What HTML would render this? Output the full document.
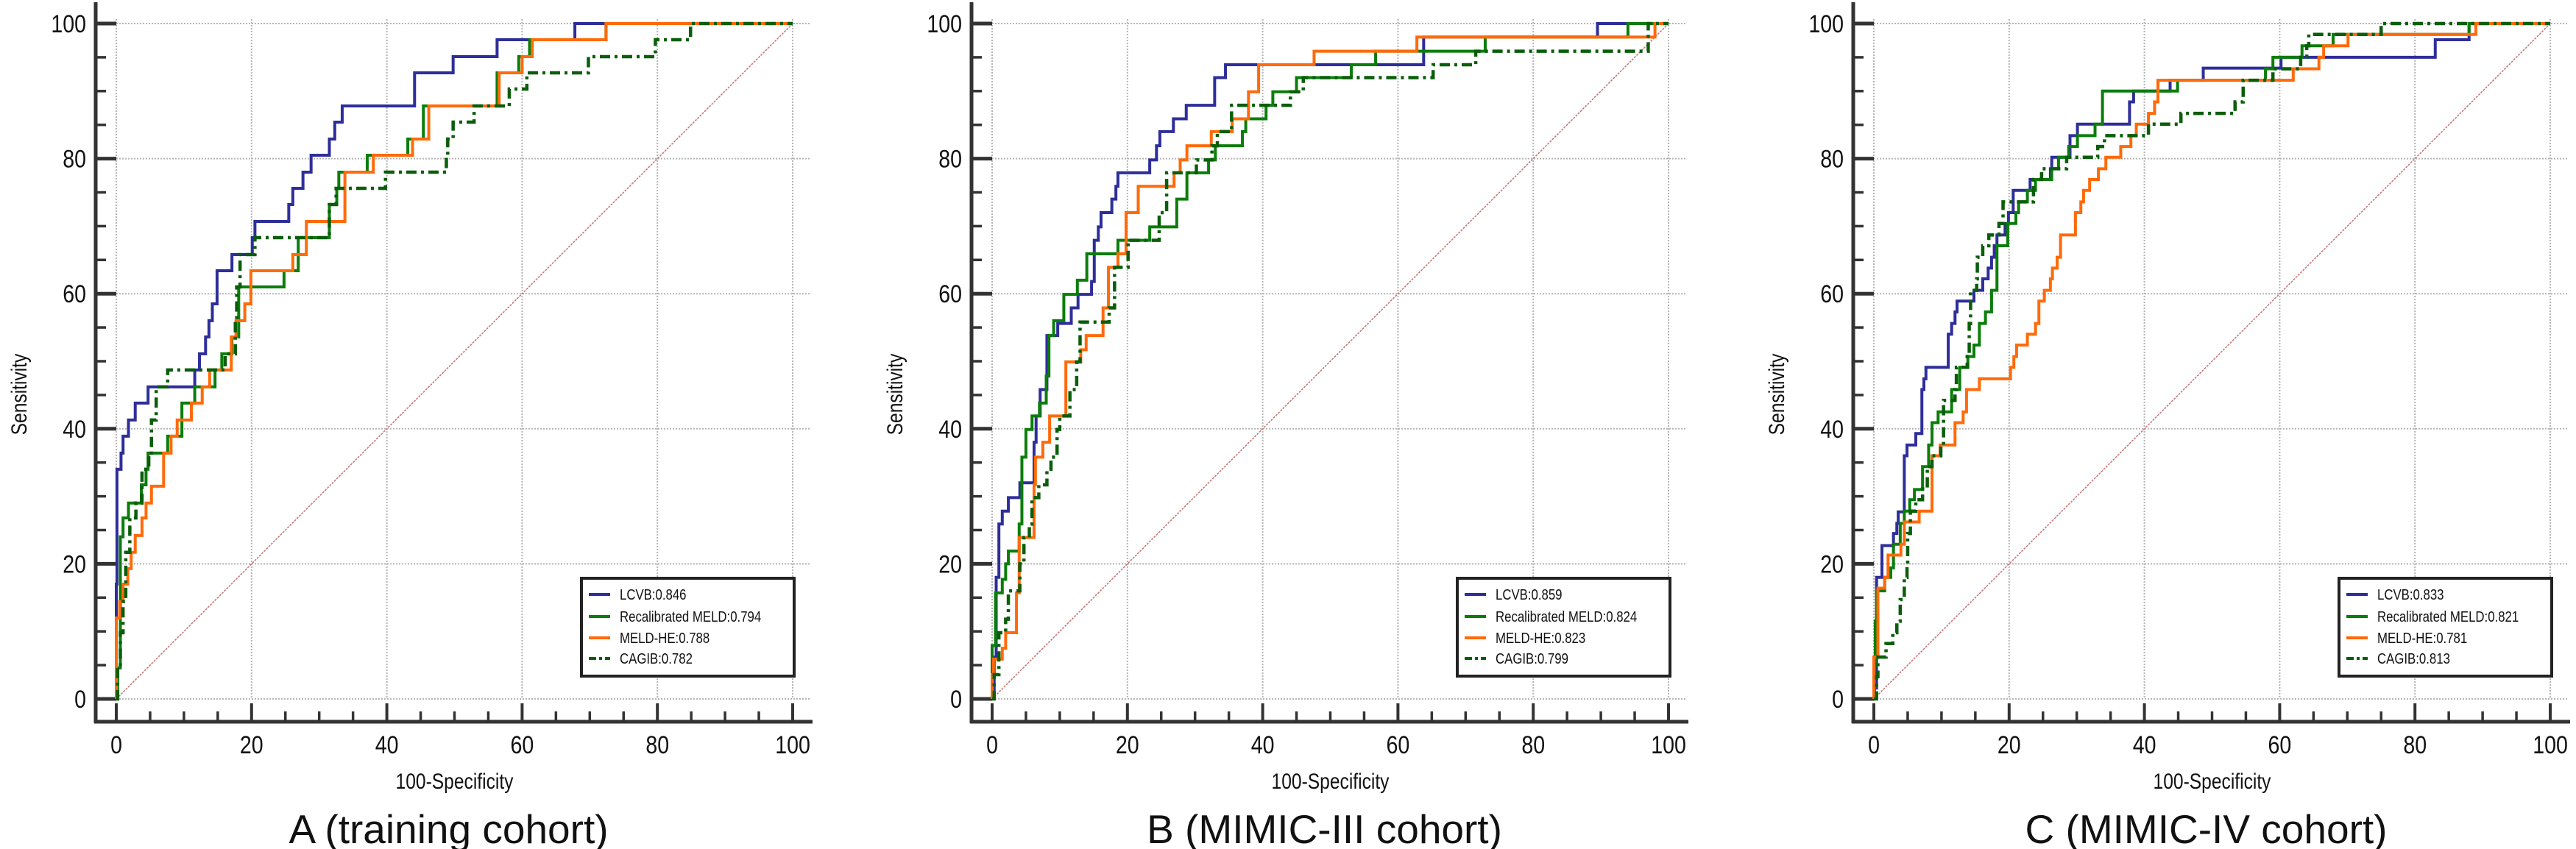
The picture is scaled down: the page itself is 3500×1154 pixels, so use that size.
<!DOCTYPE html>
<html><head><meta charset="utf-8"><title>ROC curves</title>
<style>
html,body{margin:0;padding:0;background:#fff;}
svg{display:block;font-family:"Liberation Sans",Arial,sans-serif;}
</style></head>
<body>
<svg id="chart" width="3500" height="1154" viewBox="0 0 3500 1154" xmlns="http://www.w3.org/2000/svg"></svg>
<script>
// ---- Panel meta ----
const panelTitles = ["A (training cohort)", "B (MIMIC-III cohort)", "C (MIMIC-IV cohort)"];
const seriesNames = ["LCVB", "Recalibrated MELD", "MELD-HE", "CAGIB"];
const aucA = ["0.846", "0.794", "0.788", "0.782"];
const aucB = ["0.859", "0.824", "0.823", "0.799"];
const aucC = ["0.833", "0.821", "0.781", "0.813"];
const tickLabels = ["0", "20", "40", "60", "80", "100"];
const tickValues = [0, 20, 40, 60, 80, 100];

// ---- Panel A data (100-specificity where sensitivity steps up, new sensitivity) ----
const lcvbA_x = [0,0.1,0.7,1.0,1.8,2.8,4.7,11.6,12.3,13.2,13.7,14.2,14.9,17.1,20.1,20.5,25.5,26.1,27.6,28.8,31.5,32.3,33.4,44.1,49.8,56.3,67.8];
const lcvbA_y = [17,34,36.4,38.9,41.3,43.8,46.2,48.7,51.1,53.6,56,58.5,63.4,65.8,68.3,70.7,73.2,75.6,78,80.5,82.9,85.4,87.8,92.7,95.1,97.6,100];
const meldA_x = [0.2,0.6,1.0,1.8,3.7,4.4,4.7,7.6,9.7,11.6,14.6,15.6,17.1,18.1,24.8,26.9,31.5,32.6,32.9,37.1,43.1,45.4,56.3,59.5,61.1,72.4];
const meldA_y = [4.6,24,26.8,29,31.7,34,36.4,38.9,43.8,46.2,48.7,51.1,53.6,61,63.4,68.3,73.2,75.6,78,80.5,82.9,87.8,92.7,95.1,97.6,100];
const meldheA_x = [0,0.5,1,1.7,2.2,2.8,3.8,4.4,5.2,7.0,8.1,9.0,11.1,12.7,13.8,17.0,17.7,19.0,19.9,26.1,28.1,33.8,38.0,43.8,46.2,56.6,60,61.5,72.4];
const meldheA_y = [12,14.4,17,19.3,21.7,24.2,26.8,29,31.5,36.4,38.9,41.3,43.8,46.2,48.7,53.6,56,58.5,63.4,65.8,70.7,78,80.5,82.9,87.8,92.7,95.1,97.6,100];
const cagibA_x = [0.2,0.6,1.0,1.4,2.0,2.9,3.8,4.8,5.2,5.9,7.6,16.1,17.6,17.8,18.3,20.5,31.5,32.5,39.8,48.8,49.0,49.8,52.9,58.1,60.7,69.8,79.7,84.9];
const cagibA_y = [4.6,9.8,14.4,21.7,26.8,29,34,36.4,41.3,46.2,48.7,51.1,56,61,65.8,68.3,73.2,75.6,78,80.5,82.9,85.4,87.8,90.3,92.7,95.1,97.6,100];

// ---- Panel B data ----
const lcvbB_x = [0.3,0.6,1.0,1.5,2.4,4.1,6.2,6.5,7.1,8.1,9.7,11.7,12.7,14.7,15.1,15.7,16.1,17.7,18.3,18.6,23.3,24.3,24.8,26.8,28.7,32.9,34.5,63.8,89.5];
const lcvbB_y = [6.2,18,25.9,27.8,29.8,32,38,41.9,45.8,53.8,55.6,57.9,59.9,61.8,67.9,69.9,72,74,75.9,77.9,79.8,81.9,84,85.9,87.9,92,93.9,98,100];
const meldB_x = [0,0.5,1.5,2.0,2.4,4.0,4.4,5.0,5.9,7.0,8.0,8.4,9.1,10.6,12.6,14.0,18.6,23.3,27.3,28.8,32.0,33.0,37.0,37.5,40.5,41.5,45.0,53.1,56.7,72.9,94];
const meldB_y = [7.9,15.7,17.7,20,21.9,25.9,35.8,39.9,41.9,43.8,47.8,53.8,56,59.9,62,65.9,67.9,69.9,74,77.9,79.8,81.9,84,85.9,87.9,89.9,92,93.9,95.9,98,100];
const meldheB_x = [0,0.2,1.5,2.0,3.6,4.0,6.2,6.4,7.5,8.5,10.9,13.1,13.9,16.4,17.2,18.6,19.8,21.6,26.9,27.8,28.8,32.4,35.5,37.9,39.4,47.6,62.8,98];
const meldheB_y = [3.6,5.9,7.5,9.8,15.7,23.9,31.7,35.8,38,41.9,49.9,51.7,53.8,57.9,63.9,65.9,72,75.9,77.9,79.8,81.9,84,85.9,89.9,93.9,95.9,98,100];
const cagibB_x = [0.3,1.0,2.0,2.4,4.1,4.7,5.5,5.9,6.9,8.1,8.7,9.6,10.0,11.5,12.5,13.0,17.3,18.1,20.1,24.7,25.8,30.2,32.5,33.3,35.4,44.1,46.0,65.2,71.5,97];
const cagibB_y = [3.6,9.8,11.8,16,20,23.9,25.9,29.8,31.7,34,35.8,39.9,41.9,45.8,49.9,55.8,57.9,63.9,67.9,72,77.9,79.8,81.9,84,87.9,89.9,92,93.9,95.9,100];

// ---- Panel C data ----
const lcvbC_x = [0.1,0.4,1.2,2.9,3.4,3.6,4.5,4.9,6.2,7.1,7.4,7.7,11.0,11.5,12.0,12.3,14.8,16.1,16.9,17.4,17.8,18.2,19.4,19.9,20.6,23.1,26.1,26.3,29.0,30.1,37.8,38.4,43.8,48.7,60.2,83,88];
const lcvbC_y = [1.6,18,22.7,24.5,26,27.7,36,37.6,39.3,45.8,47.4,49.1,54,55.6,57.3,58.9,60.5,62.2,63.8,65.4,67.1,68.7,70.4,72,75.3,76.9,78.5,80.2,83.4,85.1,88.4,90,91.6,93.4,95,97.6,100];
const meldC_x = [0.1,0.2,0.4,1.6,2.5,2.9,3.9,4.5,5.3,6.0,7.2,8.1,8.6,9.5,11.5,12.7,13.9,14.8,15.6,16.5,17.4,18.2,19.8,21.0,21.4,22.7,23.9,26.3,27.3,28.8,30.1,32.7,33.8,44.9,57.9,59.0,63.3,67.9,88];
const meldC_y = [4.9,11.5,16,18,19.4,22.9,26,27.8,29.5,31,34.4,37.6,40.9,42.5,45.8,49.1,50.7,52.4,55.6,57.3,60.5,67.1,70.4,72,73.6,75.3,76.9,78.5,80.2,81.8,83.4,85.1,90,91.6,93.3,95,96.7,98.4,100];
const meldheC_x = [0,0.6,1.6,2.1,4.0,4.5,6.7,8.6,9.8,12.0,13.2,13.7,15.6,20.2,20.7,21.1,22.7,23.9,24.4,25.2,26.1,26.4,27.1,27.6,29.8,30.6,31.0,31.9,33.2,34.3,36.5,38.0,38.8,40.6,41.5,42.0,62.0,65.8,66.5,70.1,89];
const meldheC_y = [6.2,16.4,18,21.3,22.9,26.2,27.8,36,37.6,40.9,42.5,45.8,47.4,49.1,50.7,52.4,54,55.6,58.9,60.5,62.2,63.8,65.4,68.7,72,73.6,75.3,76.9,78.5,80.2,81.8,83.4,85.1,86.7,88.4,91.6,93.3,95,96.7,98.4,100];
const cagibC_x = [0.4,0.6,1.8,2.8,3.4,3.9,4.5,4.9,5.0,5.4,6.2,7.2,7.9,8.6,9.9,10.3,12.0,12.2,13.8,14.1,14.3,15.2,15.3,16.1,17.0,18.5,19.1,23.6,24.8,28.5,33.1,34.1,40.6,45.4,53.4,54.6,59.0,63.1,64.0,64.3,75];
const cagibC_y = [3.3,6.2,8.2,9.8,11.5,14.7,18,19.6,24.5,27.8,29.5,31.1,34.4,36,37.6,44.2,45.8,49.1,50.7,55.6,60.5,62.2,65.4,67.1,68.7,70.4,73.6,76.9,78.5,80.2,81.8,83.4,85.1,86.7,88.4,91.6,93.3,95,96.7,98.4,100];

const NS = "http://www.w3.org/2000/svg";
const svg = document.getElementById("chart");
const offsets = [0, 1190, 2388];
const colors = ["#2e2e9a", "#0b7d0b", "#ff6a0a", "#0a5e0a"];

function mk(tag, attrs, parent) {
  const e = document.createElementNS(NS, tag);
  for (const k in attrs) e.setAttribute(k, attrs[k]);
  (parent || svg).appendChild(e);
  return e;
}

function drawPanel(p, title, aucs, xs, ys) {
  const dx = offsets[p];
  const X0 = 158 + dx, XS = 9.19, Y0 = 950, YS = 9.18;
  const sx = v => X0 + v * XS;
  const sy = v => Y0 - v * YS;
  const g = mk("g", {});
  
  

  // grid
  for (const v of tickValues) {
    const gv = mk("line", {x1: sx(v), x2: sx(v), y1: sy(100) - 6, y2: sy(0), stroke: "#b5b5b5", "stroke-width": 2, "stroke-dasharray": "2 2"}, g);
    
    
    const gh = mk("line", {x1: sx(0), x2: X0 + 944, y1: sy(v), y2: sy(v), stroke: "#b5b5b5", "stroke-width": 2, "stroke-dasharray": "2 2"}, g);
    
    
  }
  // diagonal
  const diag = mk("line", {x1: sx(0), y1: sy(0), x2: sx(100), y2: sy(100), stroke: "#c47a7a", "stroke-width": 1.6, "stroke-dasharray": "3 1.5"}, g);
  
  

  // axes
  const AX = X0 - 28, AY = 981;
  const ya = mk("line", {x1: AX, x2: AX, y1: 3, y2: AY + 2, stroke: "#333", "stroke-width": 5}, g);
  
  
  const xa = mk("line", {x1: AX - 2, x2: X0 + 946, y1: AY, y2: AY, stroke: "#333", "stroke-width": 5}, g);
  
  
  for (let v = 0; v <= 100; v += 5) {
    const major = v % 20 === 0;
    const yt = mk("line", {x1: AX, x2: major ? X0 : AX + 14, y1: sy(v), y2: sy(v), stroke: "#333", "stroke-width": major ? 5 : 3.5}, g);
    
    
    const xt = mk("line", {x1: sx(v), x2: sx(v), y1: AY, y2: major ? AY - 25 : AY - 14, stroke: "#333", "stroke-width": major ? 4 : 3.5}, g);
    
    
  }
  tickValues.forEach((v, i) => {
    const yl = mk("text", {transform: `translate(${AX - 13},${sy(v) + 12}) scale(0.84,1)`, "text-anchor": "end", "font-size": 34, fill: "#111"}, g);
    yl.textContent = tickLabels[i];
    
    
    const xl = mk("text", {transform: `translate(${sx(v)},${1024}) scale(0.84,1)`, "text-anchor": "middle", "font-size": 34, fill: "#111"}, g);
    xl.textContent = tickLabels[i];
    
    
  });
  const xt = mk("text", {transform: `translate(${sx(50)},1072) scale(0.82,1)`, "text-anchor": "middle", "font-size": 30, fill: "#111"}, g);
  xt.textContent = "100-Specificity";
  
  
  const yt = mk("text", {transform: `translate(${dx + 36},536) rotate(-90) scale(0.82,1)`, "text-anchor": "middle", "font-size": 30, fill: "#111"}, g);
  yt.textContent = "Sensitivity";
  
  
  const pt = mk("text", {x: sx(50) - 8, y: 1146, "text-anchor": "middle", "font-size": 55, fill: "#111"}, g);
  pt.textContent = title;
  
  

  // curves
  for (let s = 0; s < 4; s++) {
    const fx = xs[s], fy = ys[s];
    const n = Math.min(fx.length, fy.length);
    let d = `M${sx(0)},${sy(0)}`;
    for (let i = 0; i < n; i++) d += ` H${sx(fx[i])} V${sy(fy[i])}`;
    d += ` H${sx(100)}`;
    const attrs = {d: d, fill: "none", stroke: colors[s], "stroke-width": s === 3 ? 4.5 : 4, "stroke-linejoin": "miter"};
    if (s === 3) attrs["stroke-dasharray"] = "14 6 4 6";
    const path = mk("path", attrs, g);
    
    
  }

  // legend
  const lg = mk("g", {}, g);
  
  
  const lb = mk("rect", {x: X0 + 632, y: 786, width: 289, height: 133, fill: "#fff", stroke: "#222", "stroke-width": 4}, lg);
  
  
  const rows = [808, 838, 867, 895];
  for (let s = 0; s < 4; s++) {
    const la = {x1: X0 + 642, x2: X0 + 671, y1: rows[s], y2: rows[s], stroke: colors[s], "stroke-width": 4};
    if (s === 3) la["stroke-dasharray"] = "10 4 4 4";
    const ll = mk("line", la, lg);
    
    
    const lt = mk("text", {transform: `translate(${X0 + 684},${rows[s] + 7}) scale(0.84,1)`, "font-size": 20, fill: "#111"}, lg);
    lt.textContent = seriesNames[s] + ":" + aucs[s];
    
    
  }
}

drawPanel(0, panelTitles[0], aucA, [lcvbA_x, meldA_x, meldheA_x, cagibA_x], [lcvbA_y, meldA_y, meldheA_y, cagibA_y]);
drawPanel(1, panelTitles[1], aucB, [lcvbB_x, meldB_x, meldheB_x, cagibB_x], [lcvbB_y, meldB_y, meldheB_y, cagibB_y]);
drawPanel(2, panelTitles[2], aucC, [lcvbC_x, meldC_x, meldheC_x, cagibC_x], [lcvbC_y, meldC_y, meldheC_y, cagibC_y]);
</script>
</body></html>
